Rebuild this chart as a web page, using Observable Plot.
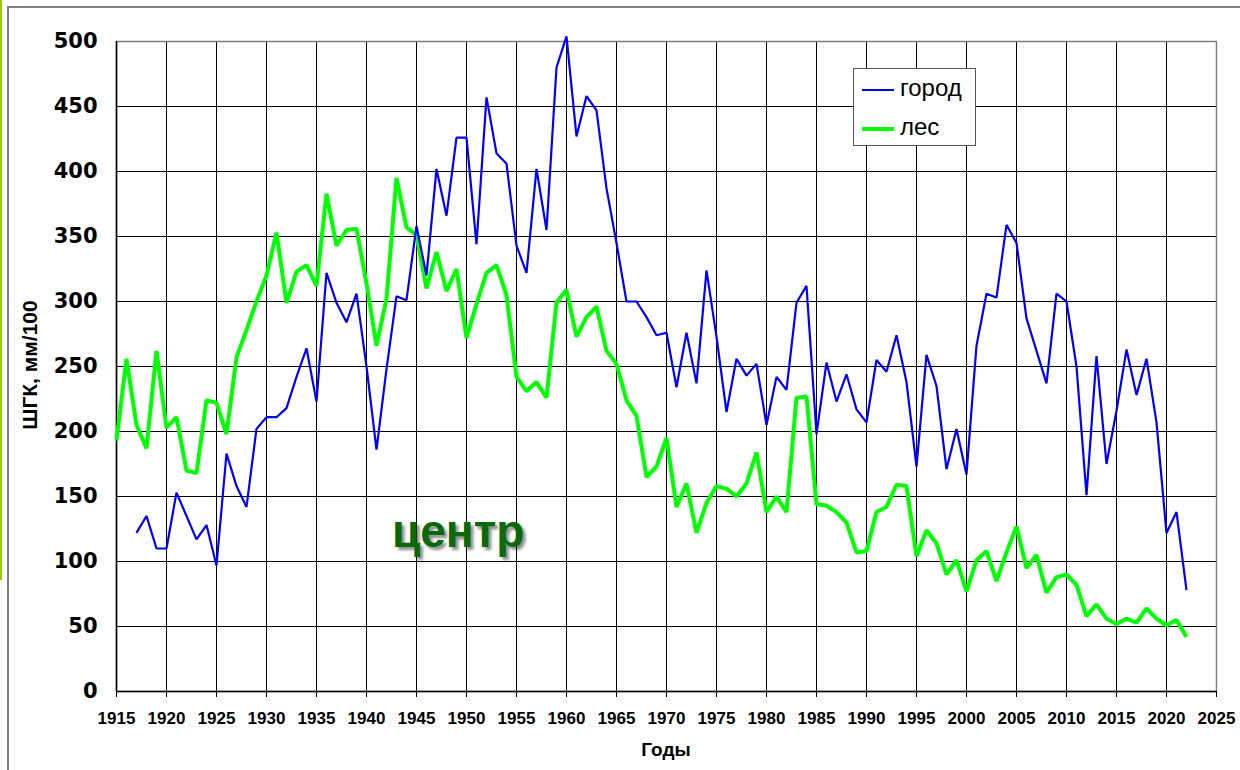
<!DOCTYPE html>
<html>
<head>
<meta charset="utf-8">
<script src="https://cdn.jsdelivr.net/npm/d3@7"></script>
<script src="https://cdn.jsdelivr.net/npm/@observablehq/plot@0.6"></script>
<style>
  html, body { margin: 0; padding: 0; background: #fff; }
  #wrap { position: relative; width: 1240px; height: 770px; overflow: hidden; background: #fff; }
  #outer { position: absolute; left: 7px; top: 6px; width: 1300px; height: 900px; border-left: 2px solid #808080; border-top: 2px solid #808080; box-sizing: border-box; }
  #lime { position: absolute; left: 0; top: 0; width: 2px; height: 580px; background: #9acd00; }
  #chart { position: absolute; left: 0; top: 0; }
  .ylab { position: absolute; left: 30px; top: 365px; transform: translate(-50%, -50%) rotate(-90deg); font: bold 21px "Liberation Sans", Arial, sans-serif; white-space: nowrap; color: #000; }
  .xlab { position: absolute; left: 666px; top: 750px; transform: translate(-50%, -50%); font: bold 19px "Liberation Sans", Arial, sans-serif; color: #000; }
  #legend { position: absolute; left: 853px; top: 68px; width: 123px; height: 78px; box-sizing: border-box; border: 1.5px solid #555; background: #fff; font: 24px "Liberation Sans", Arial, sans-serif; color: #000; }
  #legend .row { position: absolute; left: 0; height: 30px; width: 120px; }
  #legend .sw { position: absolute; left: 8px; width: 32px; }
  #legend .tx { position: absolute; left: 46px; line-height: 1; }
  .center { position: absolute; left: 392px; top: 508px; font: bold 46px "Liberation Sans", Arial, sans-serif; color: #0a6a0a; text-shadow: 3px 3px 3px rgba(0,0,0,0.45); line-height: 1; }
</style>
</head>
<body>
<div id="wrap">
  <div id="outer"></div>
  <div id="lime"></div>
  <div id="chart"></div>
  <div class="ylab">ШГК, мм/100</div>
  <div class="xlab">Годы</div>
  <div class="center">центр</div>
  <div id="legend"></div>
</div>
<script>
// ---- data ----
const seriesNames = ["город", "лес"];
const seriesColors = ["#0000ff", "#00ff00"];

const forestYears = [1915,1916,1917,1918,1919,1920,1921,1922,1923,1924,1925,1926,1927,1928,1929,1930,1931,1932,1933,1934,1935,1936,1937,1938,1939,1940,1941,1942,1943,1944,1945,1946,1947,1948,1949,1950,1951,1952,1953,1954,1955,1956,1957,1958,1959,1960,1961,1962,1963,1964,1965,1966,1967,1968,1969,1970,1971,1972,1973,1974,1975,1976,1977,1978,1979,1980,1981,1982,1983,1984,1985,1986,1987,1988,1989,1990,1991,1992,1993,1994,1995,1996,1997,1998,1999,2000,2001,2002,2003,2004,2005,2006,2007,2008,2009,2010,2011,2012,2013,2014,2015,2016,2017,2018,2019,2020,2021,2022];
const forestValues = [193,256,205,187,262,203,211,170,168,224,222,198,257,278,300,320,353,299,323,328,312,383,343,355,356,314,266,302,395,357,351,310,338,308,325,272,298,322,328,305,242,231,238,226,299,309,273,288,296,262,252,224,212,165,173,195,142,160,122,145,158,156,150,160,184,138,150,138,226,227,144,143,138,130,107,108,138,142,159,158,104,124,114,90,101,77,101,108,85,107,127,95,105,76,88,90,82,58,67,56,52,56,53,64,56,51,55,42];

const cityYears = [1917,1918,1919,1920,1921,1922,1923,1924,1925,1926,1927,1928,1929,1930,1931,1932,1933,1934,1935,1936,1937,1938,1939,1940,1941,1942,1943,1944,1945,1946,1947,1948,1949,1950,1951,1952,1953,1954,1955,1956,1957,1958,1959,1960,1961,1962,1963,1964,1965,1966,1967,1968,1969,1970,1971,1972,1973,1974,1975,1976,1977,1978,1979,1980,1981,1982,1983,1984,1985,1986,1987,1988,1989,1990,1991,1992,1993,1994,1995,1996,1997,1998,1999,2000,2001,2002,2003,2004,2005,2006,2007,2008,2009,2010,2011,2012,2013,2014,2015,2016,2017,2018,2019,2020,2021,2022];
const cityValues = [122,135,110,110,153,135,117,128,97,183,158,142,202,211,211,218,242,264,223,322,299,284,306,250,186,248,304,301,358,320,402,366,426,426,344,457,414,406,343,322,402,355,480,504,427,458,447,387,345,300,300,288,274,276,234,276,237,324,273,215,256,243,252,205,242,232,299,312,198,253,223,244,217,207,255,246,274,238,173,259,235,171,202,167,266,306,303,359,345,287,262,237,306,300,250,151,258,175,216,263,228,256,207,122,138,78];

const xTicks = [1915,1920,1925,1930,1935,1940,1945,1950,1955,1960,1965,1970,1975,1980,1985,1990,1995,2000,2005,2010,2015,2020,2025];
const yTicks = [0,50,100,150,200,250,300,350,400,450,500];

// ---- tables ----
const city = cityYears.map((y, i) => ({year: y, value: cityValues[i], series: seriesNames[0]}));
const forest = forestYears.map((y, i) => ({year: y, value: forestValues[i], series: seriesNames[1]}));

const chart = Plot.plot({
  width: 1240,
  height: 770,
  marginLeft: 116,
  marginRight: 24,
  marginTop: 41,
  marginBottom: 79,
  style: {background: "transparent", overflow: "visible"},
  x: {domain: [1915, 2025]},
  y: {domain: [0, 500]},
  marks: [
    Plot.gridX(xTicks.filter(d => d > 1915 && d < 2025), {stroke: "#000", strokeOpacity: 1, strokeWidth: 1}),
    Plot.gridY(yTicks, {stroke: "#000", strokeOpacity: 1, strokeWidth: 1}),
    Plot.frame({stroke: "#808080", strokeWidth: 1.5}),
    Plot.ruleX([1915], {stroke: "#000", strokeWidth: 1.5}),
    Plot.ruleY([0], {stroke: "#000", strokeWidth: 1.5}),
    Plot.axisY({ticks: yTicks, tickSize: 8, tickPadding: 11, label: null, fontSize: 21, fontWeight: "bold", fontFamily: "DejaVu Sans, Verdana, sans-serif", stroke: null, tickFormat: d => String(d)}),
    Plot.axisX({ticks: xTicks, tickSize: 6, tickPadding: 14, label: null, fontSize: 17, fontWeight: "bold", fontFamily: "Liberation Sans Narrow, Arial Narrow, Liberation Sans, sans-serif", tickFormat: d => String(d)}),
    Plot.line(forest, {x: "year", y: "value", stroke: seriesColors[1], strokeWidth: 4, strokeLinejoin: "miter", strokeLinecap: "butt"}),
    Plot.line(city, {x: "year", y: "value", stroke: seriesColors[0], strokeWidth: 2.2, strokeLinejoin: "miter", strokeLinecap: "butt"})
  ]
});
document.getElementById("chart").appendChild(chart);

// legend
const legend = document.getElementById("legend");
seriesNames.forEach((name, i) => {
  const row = document.createElement("div");
  row.className = "row";
  row.style.top = (i === 0 ? 5 : 44) + "px";
  const sw = document.createElement("div");
  sw.className = "sw";
  sw.style.top = (i === 0 ? 15 : 14) + "px";
  sw.style.height = (i === 0 ? 2 : 4) + "px";
  sw.style.background = seriesColors[i];
  const tx = document.createElement("div");
  tx.className = "tx";
  tx.style.top = "2px";
  tx.textContent = name;
  row.appendChild(sw);
  row.appendChild(tx);
  legend.appendChild(row);
});
</script>
</body>
</html>
